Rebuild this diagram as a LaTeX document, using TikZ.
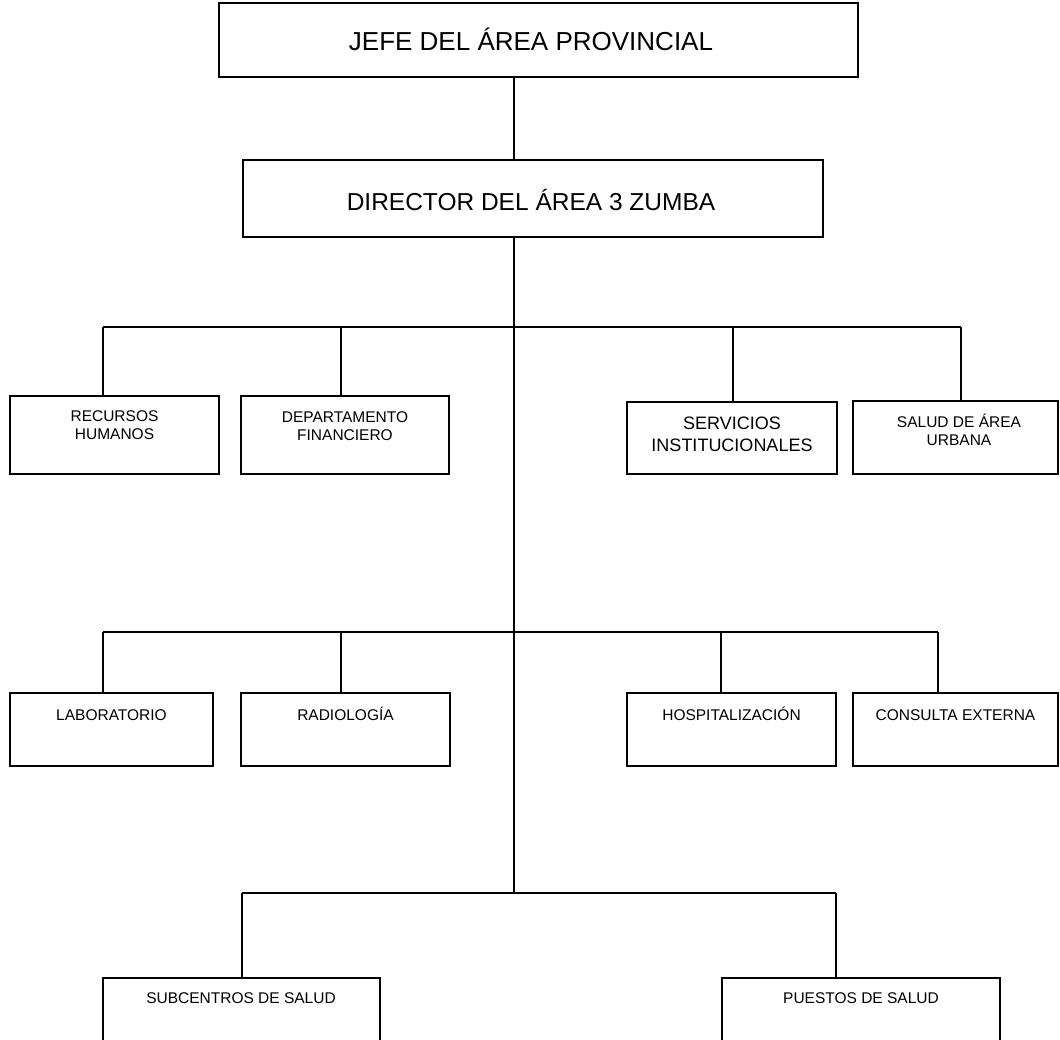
\documentclass[tikz,border=0pt]{standalone}
\usepackage{fontspec}
\setmainfont{Liberation Sans}
\begin{document}
\begin{tikzpicture}[x=1pt,y=-1pt,
  unit/.style={draw=black,line width=1.8pt,fill=white,rectangle,inner sep=0pt},
  link/.style={draw=black,line width=1.8pt},
  big/.style={font=\fontsize{26}{30}\selectfont,anchor=base,inner sep=0pt},
  mid/.style={font=\fontsize{24.5}{28}\selectfont,anchor=base,inner sep=0pt},
  small/.style={font=\fontsize{15.5}{18}\selectfont,anchor=base,inner sep=0pt},
  medium/.style={font=\fontsize{18}{21}\selectfont,anchor=base,inner sep=0pt}]
\fill[white] (0,0) rectangle (1060,1040);
\useasboundingbox (0,0) rectangle (1060,1040);
\clip (0,0) rectangle (1060,1040);

% boxes (corner to corner, in pixels from the top left)
\newcommand{\orgbox}[5]{\node[unit,minimum width=#4-#2,minimum height=#5-#3] (#1) at ({(#2+#4)/2},{(#3+#5)/2}) {};}
\orgbox{jefe}{219}{3}{858}{77}
\orgbox{dir}{243}{160}{823}{237}
\orgbox{rh}{10}{396}{219}{474}
\orgbox{df}{241}{396}{449}{474}
\orgbox{si}{627}{402}{837}{474}
\orgbox{sau}{853}{401}{1058}{474}
\orgbox{lab}{10}{693}{213}{766}
\orgbox{rad}{241}{693}{450}{766}
\orgbox{hosp}{627}{693}{836}{766}
\orgbox{ce}{853}{693}{1058}{766}
\orgbox{sub}{103}{978}{380}{1060}
\orgbox{pue}{722}{978}{1000}{1060}

% labels
\node[big] (jefe-t) at (531,51) {JEFE DEL ÁREA PROVINCIAL};
\node[mid] (dir-t) at (531,211) {DIRECTOR DEL ÁREA 3 ZUMBA};
\node[small] (rh-t1) at (rh.center |- 0,421) {RECURSOS};
\node[small] (rh-t2) at (rh.center |- 0,439) {HUMANOS};
\node[small] (df-t1) at (df.center |- 0,422) {DEPARTAMENTO};
\node[small] (df-t2) at (df.center |- 0,440) {FINANCIERO};
\node[medium] (si-t1) at (si.center |- 0,429) {SERVICIOS};
\node[medium] (si-t2) at (si.center |- 0,451) {INSTITUCIONALES};
\node[small] (sau-t1) at (959,428) {SALUD DE ÁREA};
\node[small] (sau-t2) at (959,445) {URBANA};
\node[small] (lab-t) at (lab.center |- 0,720) {LABORATORIO};
\node[small] (rad-t) at (rad.center |- 0,720) {RADIOLOGÍA};
\node[small] (hosp-t) at (hosp.center |- 0,720) {HOSPITALIZACIÓN};
\node[small] (ce-t) at (ce.center |- 0,720) {CONSULTA EXTERNA};
\node[small] (sub-t) at (241,1003) {SUBCENTROS DE SALUD};
\node[small] (pue-t) at (861,1003) {PUESTOS DE SALUD};

% trunk and bus points
\coordinate (trunk) at (514,0);
\coordinate (r1) at (514,327);
\coordinate (r2) at (514,632);
\coordinate (r3) at (514,893);
\coordinate (p-rh) at (103,327);
\coordinate (p-df) at (341,327);
\coordinate (p-si) at (733,327);
\coordinate (p-sau) at (961,327);
\coordinate (p-lab) at (103,632);
\coordinate (p-rad) at (341,632);
\coordinate (p-hosp) at (721,632);
\coordinate (p-ce) at (938,632);
\coordinate (p-sub) at (242,893);
\coordinate (p-pue) at (836,893);

% connectors
\draw[link] (jefe.south -| trunk) -- (dir.north -| trunk);
\draw[link] (dir.south -| trunk) -- (r3);
\draw[link] (p-rh) -- (p-sau);
\draw[link] (p-lab) -- (p-ce);
\draw[link] (p-sub) -- (p-pue);
\foreach \c in {rh,df,si,sau,lab,rad,hosp,ce,sub,pue}
  \draw[link] (p-\c) -- (p-\c |- \c.north);
\end{tikzpicture}
\end{document}
